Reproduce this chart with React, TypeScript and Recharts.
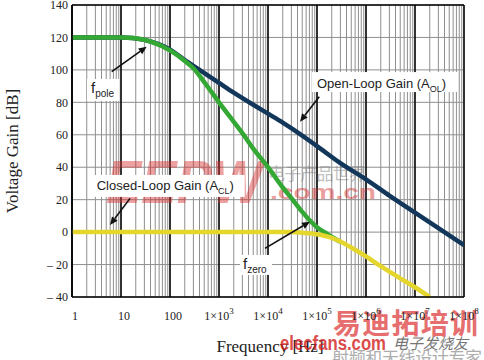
import React from 'react'
import {
    CartesianGrid,
    Line,
    LineChart,
    ReferenceDot,
    ReferenceLine,
    XAxis,
    YAxis,
} from 'recharts'

// x axis decades (Hz) and y axis ticks (dB)
const decades = [1, 10, 100, 1e3, 1e4, 1e5, 1e6, 1e7, 1e8]
const gainTicks = [-40, -20, 0, 20, 40, 60, 80, 100, 120, 140]

// Open-loop gain A_OL (dark blue)
const olFreq = [1, 10, 30, 100, 200, 400, 1e3, 2e3, 5e3, 1e4, 2e4, 5e4, 1e5, 3e5, 1e6, 3e6, 1e7, 3e7, 1e8]
const olGain = [120, 120, 118.5, 112.5, 106, 100, 92, 86, 78.5, 73, 67.5, 59.5, 53, 42.5, 32.5, 22.5, 12, 2.5, -8]

// green curve (f_pole roll-off down to f_zero)
const poleFreq = [1, 10, 20, 40, 100, 200, 300, 500, 1e3, 2e3, 3e3, 5e3, 1e4, 2e4, 3e4, 5e4, 7e4, 1e5, 1.5e5, 2e5, 3e5]
const poleGain = [120, 120, 119.5, 117.5, 112, 105.5, 101, 92.5, 80, 68, 61, 51.5, 40, 27.5, 21, 12.5, 7.5, 3, -0.5, -3, -6]

// Closed-loop gain A_CL (yellow)
const clFreq = [1, 1e4, 3e4, 5e4, 1e5, 2e5, 3e5, 5e5, 1e6, 2e6, 5e6, 1e7, 2e7]
const clGain = [0, 0, 0, -0.4, -1.3, -3.5, -5.8, -9.5, -15, -21, -28.5, -34, -40]

const minorTicks = decades
    .slice(0, -1)
    .flatMap((d) => [2, 3, 4, 5, 6, 7, 8, 9].map((m) => m * d))
const freqTicks = [...decades, ...minorTicks].sort((a, b) => a - b)

const toPoints = (f: number[], g: number[]) => f.map((v, i) => ({ f: v, g: g[i] }))
const openLoop = toPoints(olFreq, olGain)
const poleCurve = toPoints(poleFreq, poleGain)
const closedLoop = toPoints(clFreq, clGain)

const serif = "'Liberation Serif', 'Times New Roman', serif"
const sans = "'Liberation Sans', Arial, sans-serif"
const cjk = "'Noto Sans CJK SC', sans-serif"

const fmtGain = (v: number) => (v < 0 ? `\u2013 ${Math.abs(v)}` : `${v}`)

const FreqTick = (props: any) => {
    const { x, y, payload } = props
    const v = payload.value
    const i = decades.indexOf(v)
    if (i < 0) return <g />
    if (i < 3) {
        return (
            <text x={x + 3} y={y + 23} textAnchor='middle' fontFamily={serif} fontSize={12} fill='#222'>
                {String(v)}
            </text>
        )
    }
    return (
        <text x={x} y={y + 23} textAnchor='middle' fontFamily={serif} fontSize={12} fill='#222'>
            1×10
            <tspan fontSize={9} dy={-6}>
                {i}
            </tspan>
        </text>
    )
}

const Arrow = (props: any) => {
    const { x1, y1, x2, y2 } = props
    const a = Math.atan2(y2 - y1, x2 - x1)
    const len = 8
    const w = 3.5
    const bx = x2 - len * Math.cos(a)
    const by = y2 - len * Math.sin(a)
    const pts = `${x2},${y2} ${bx + w * Math.sin(a)},${by - w * Math.cos(a)} ${bx - w * Math.sin(a)},${by + w * Math.cos(a)}`
    return (
        <g>
            <line x1={x1} y1={y1} x2={bx} y2={by} stroke='#111' strokeWidth={1.6} />
            <polygon points={pts} fill='#111' />
        </g>
    )
}

const note =
    (main: string, sub: string, tail: string, box: [number, number, number, number], size = 13, subSize = 9) =>
    (props: any) => {
        const { cx, cy } = props
        return (
            <g>
                <rect x={cx + box[0]} y={cy + box[1]} width={box[2]} height={box[3]} fill='#fff' />
                <text x={cx} y={cy} fontFamily={sans} fontSize={size} fill='#222'>
                    {main}
                    <tspan fontSize={subSize} dy={4}>
                        {sub}
                    </tspan>
                    {tail ? (
                        <tspan fontSize={size} dy={-4}>
                            {tail}
                        </tspan>
                    ) : null}
                </text>
            </g>
        )
    }

export default function App() {
    return (
        <div style={{ position: 'absolute', left: 0, top: 0, background: '#fff' }}>
            <LineChart width={484} height={360} margin={{ top: 5, right: 20, bottom: 0, left: 10 }}>
                <CartesianGrid stroke='#8f8f8f' strokeWidth={1} />
                <CartesianGrid stroke='#000' strokeWidth={1.5} horizontal={false} verticalValues={decades} />
                <XAxis
                    dataKey='f'
                    type='number'
                    scale='log'
                    domain={[1, 1e8]}
                    ticks={freqTicks}
                    interval={0}
                    tick={<FreqTick />}
                    tickLine={false}
                    tickSize={0}
                    tickMargin={0}
                    height={63}
                    axisLine={{ stroke: '#000', strokeWidth: 1.5 }}
                    allowDataOverflow
                />
                <YAxis
                    type='number'
                    domain={[-40, 140]}
                    ticks={gainTicks}
                    interval={0}
                    tickFormatter={fmtGain}
                    tickLine={false}
                    tickSize={0}
                    tickMargin={4}
                    width={62}
                    axisLine={{ stroke: '#000', strokeWidth: 1.5 }}
                    tick={{ fill: '#222', fontSize: 12, fontFamily: serif }}
                />
                <ReferenceLine y={140} stroke='#000' strokeWidth={1.5} />
                <Line data={openLoop} dataKey='g' type='monotone' stroke='#12375a' strokeWidth={4.5} dot={false} isAnimationActive={false} />
                <Line data={poleCurve} dataKey='g' type='monotone' stroke='#34a834' strokeWidth={4.5} dot={false} isAnimationActive={false} />
                <Line data={closedLoop} dataKey='g' type='monotone' stroke='#e4d62c' strokeWidth={4.5} dot={false} isAnimationActive={false} />

                <ReferenceLine segment={[{ x: 6.46, y: 98.9 }, { x: 33.4, y: 114.3 }]} shape={<Arrow />} />
                <ReferenceLine segment={[{ x: 1.11e5, y: 83.5 }, { x: 4.5e4, y: 68.1 }]} shape={<Arrow />} />
                <ReferenceLine segment={[{ x: 15.3, y: 20.8 }, { x: 5.96, y: 4.4 }]} shape={<Arrow />} />
                <ReferenceLine segment={[{ x: 8690, y: -10 }, { x: 7.2e4, y: 6.4 }]} shape={<Arrow />} />

                <ReferenceDot x={2.44} y={85.8} r={0} shape={note('f', 'pole', '', [-4, -14, 32, 22], 15, 10)} />
                <ReferenceDot x={1e5} y={88.8} r={0} shape={note('Open-Loop Gain (A', 'OL', ')', [-5, -16, 145, 20])} />
                <ReferenceDot x={3.19} y={26} r={0} shape={note('Closed-Loop Gain (A', 'CL', ')', [-4, -15, 152, 22])} />
                <ReferenceDot x={3090} y={-22.7} r={0} shape={note('f', 'zero', '', [-3, -14, 32, 20], 15, 10)} />

                <text x={12} y={151} transform='rotate(-90 12 151)' textAnchor='middle' dominantBaseline='central' fontFamily={serif} fontSize={17} fill='#222'>
                    Voltage Gain [dB]
                </text>
                <text x={270} y={352} textAnchor='middle' fontFamily={serif} fontSize={17} fill='#222'>
                    Frequency [Hz]
                </text>

                {/* watermarks */}
                <g opacity={0.45}>
                    <text x={106} y={203} fontFamily={sans} fontWeight='bold' fontStyle='italic' fontSize={62} fill='#d93030' textLength={156} lengthAdjust='spacingAndGlyphs'>
                        EEPW
                    </text>
                    <text x={270} y={199} fontFamily={sans} fontWeight='bold' fontSize={21} fill='#d42a2a' textLength={106} lengthAdjust='spacingAndGlyphs'>
                        .com.cn
                    </text>
                    <text x={268} y={180} fontFamily={cjk} fontSize={17} fill='#777' textLength={98}>
                        电子产品世界
                    </text>
                </g>
                <g opacity={0.8}>
                    <text x={333} y={334} fontFamily={cjk} fontWeight='bold' fontSize={28} fill='#e04a4a' textLength={145}>
                        易迪拓培训
                    </text>
                    <text x={280} y={350} fontFamily={sans} fontWeight='bold' fontSize={20} fill='#d42020' textLength={106} lengthAdjust='spacingAndGlyphs'>
                        elecfans.com
                    </text>
                    <text x={393} y={349} fontFamily={cjk} fontStyle='italic' fontSize={15} fill='#555' textLength={75}>
                        电子发烧友
                    </text>
                    <text x={332} y={364} fontFamily={cjk} fontSize={17} fill='#999' textLength={150}>
                        射频和天线设计专家
                    </text>
                </g>
            </LineChart>
        </div>
    )
}
